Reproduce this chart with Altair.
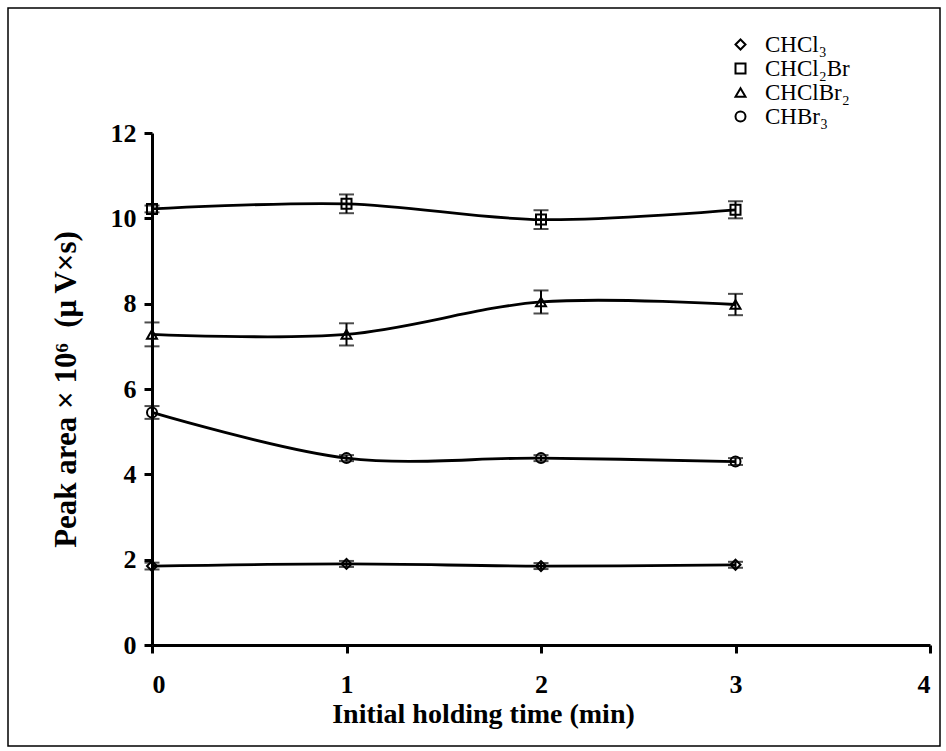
import altair as alt
import pandas as pd

# data
times = [0, 1, 2, 3]
series_names = ["CHCl₃", "CHCl₂Br", "CHClBr₂", "CHBr₃"]
shapes = ["diamond", "square", "triangle-up", "circle"]
chcl3 = [1.85, 1.90, 1.85, 1.88]
chcl3_err = [0.08, 0.07, 0.07, 0.07]
chcl2br = [10.22, 10.34, 9.97, 10.20]
chcl2br_err = [0.08, 0.22, 0.22, 0.20]
chclbr2 = [7.28, 7.28, 8.04, 7.98]
chclbr2_err = [0.28, 0.26, 0.27, 0.25]
chbr3 = [5.45, 4.38, 4.38, 4.30]
chbr3_err = [0.15, 0.07, 0.07, 0.08]

vals = [chcl3, chcl2br, chclbr2, chbr3]
errs = [chcl3_err, chcl2br_err, chclbr2_err, chbr3_err]
rows = []
for name, v, e in zip(series_names, vals, errs):
    for t, y, d in zip(times, v, e):
        rows.append({"series": name, "t": t, "y": y, "lo": y - d, "hi": y + d})
df = pd.DataFrame(rows)

FONT = "Liberation Serif"
W, H = 778, 512

x = alt.X("t:Q", scale=alt.Scale(domain=[0, 4], nice=False),
          axis=alt.Axis(values=[0, 1, 2, 3, 4], title="Initial holding time (min)", format="d",
                        titleX=331, titleFontSize=28))
y = alt.Y("y:Q", scale=alt.Scale(domain=[0, 12], nice=False),
          axis=alt.Axis(values=[0, 2, 4, 6, 8, 10, 12],
                        title="Peak area × 10⁶\u00a0\u00a0(μ\u2009V×s)", titleFontSize=31))

base = alt.Chart(df)

lines = base.mark_line(color="black", strokeWidth=2.8, interpolate="cardinal", tension=0).encode(
    x=x, y=y, detail="series:N")

bars = base.mark_rule(color="black", strokeWidth=2).encode(x="t:Q", y="lo:Q", y2="hi:Q")
cap_lo = base.mark_tick(color="black", orient="horizontal", size=15, thickness=2).encode(x="t:Q", y="lo:Q")
cap_hi = base.mark_tick(color="black", orient="horizontal", size=15, thickness=2).encode(x="t:Q", y="hi:Q")

points = base.mark_point(filled=False, color="black", strokeWidth=2, size=100, opacity=1).encode(
    x="t:Q", y="y:Q",
    shape=alt.Shape("series:N",
                    scale=alt.Scale(domain=series_names, range=shapes),
                    legend=alt.Legend(title=None, orient="none", legendX=577, legendY=-100,
                                      labelFont=FONT, labelFontSize=23, labelColor="black",
                                      symbolStrokeColor="black", symbolFillColor="white",
                                      symbolStrokeWidth=2, symbolSize=100, rowPadding=0,
                                      labelOffset=13)))

frame = alt.Chart(pd.DataFrame({"a": [0]})).mark_rect(
    fill=None, stroke="black", strokeWidth=1.5, clip=False).encode(
    x=alt.value(-144), x2=alt.value(788), y=alt.value(-125), y2=alt.value(613))

chart = alt.layer(frame, lines, bars, cap_lo, cap_hi, points).properties(
    width=W, height=H,
    autosize=alt.AutoSizeParams(type="none"),
    padding={"left": 152, "top": 133, "right": 16, "bottom": 106},
    background="white",
).configure_view(stroke=None).configure_axis(
    domainColor="black", domainWidth=3, tickColor="black", tickWidth=3, tickSize=8,
    grid=False, labelFont=FONT, labelFontSize=26, labelFontWeight="bold", labelColor="black",
    titleFont=FONT, titleFontWeight="bold", titleColor="black",
).configure_axisX(labelPadding=18, titlePadding=3).configure_axisY(labelPadding=8, titlePadding=28)

chart.save("out.html", embed_options={"renderer": "svg", "actions": False})
